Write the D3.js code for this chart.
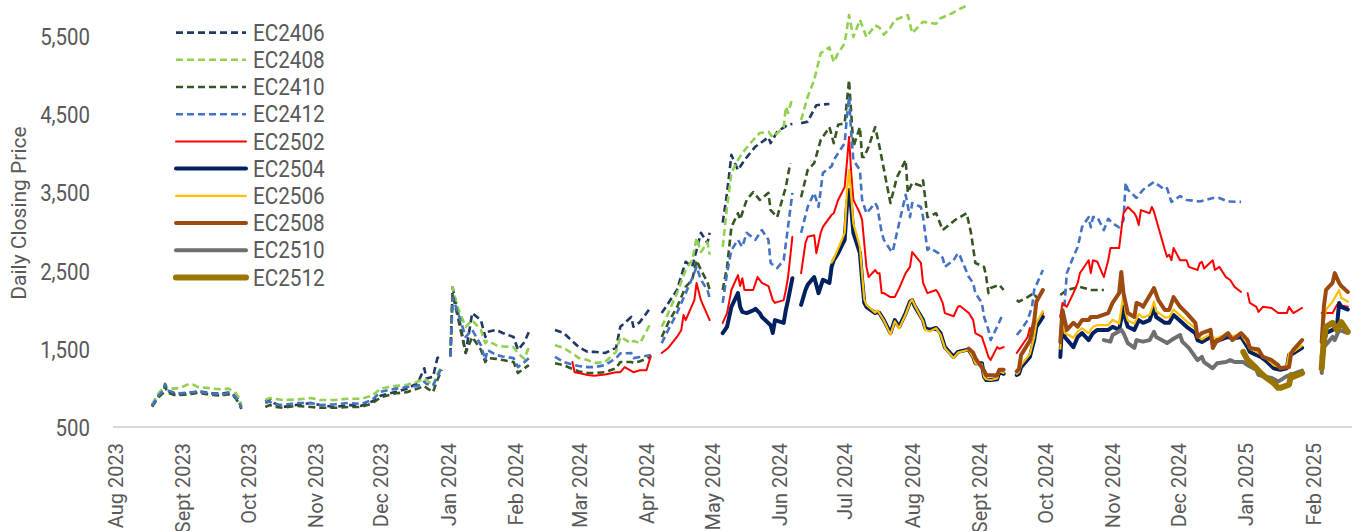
<!DOCTYPE html>
<html><head><meta charset="utf-8">
<script src="https://cdn.jsdelivr.net/npm/d3@7"></script>
<style>
body{margin:0;background:#fff;}
svg{display:block;}
</style>
</head><body>
<svg id="chart" width="1364" height="531"></svg>
<script>
// ---------- DATA ----------
const yTickValues = [500, 1500, 2500, 3500, 4500, 5500];
const xTickDates = ["2023-08-01","2023-09-01","2023-10-01","2023-11-01","2023-12-01","2024-01-01","2024-02-01","2024-03-01","2024-04-01","2024-05-01","2024-06-01","2024-07-01","2024-08-01","2024-09-01","2024-10-01","2024-11-01","2024-12-01","2025-01-01","2025-02-01"];
const xTickLabels = ["Aug 2023","Sept 2023","Oct 2023","Nov 2023","Dec 2023","Jan 2024","Feb 2024","Mar 2024","Apr 2024","May 2024","Jun 2024","Jul 2024","Aug 2024","Sept 2024","Oct 2024","Nov 2024","Dec 2024","Jan 2025","Feb 2025"];
const seriesNames = ["EC2406","EC2408","EC2410","EC2412","EC2502","EC2504","EC2506","EC2508","EC2510","EC2512"];

const EC2406 = [["2023-08-18",770],["2023-08-21",900],["2023-08-23",960],["2023-08-24",1040],["2023-08-25",960],["2023-08-28",930],["2023-08-31",920],["2023-09-04",935],["2023-09-06",940],["2023-09-08",960],["2023-09-12",940],["2023-09-15",930],["2023-09-19",925],["2023-09-22",940],["2023-09-25",900],["2023-09-27",830],["2023-09-28",750],
["2023-10-02",null],
["2023-10-09",825],["2023-10-11",860],["2023-10-13",806],["2023-10-17",755],["2023-10-23",780],["2023-10-30",806],["2023-11-03",780],["2023-11-10",755],["2023-11-16",780],["2023-11-22",770],["2023-11-27",825],["2023-12-01",900],["2023-12-08",950],["2023-12-13",990],["2023-12-18",1060],["2023-12-21",1250],["2023-12-22",1120],["2023-12-25",1140],["2023-12-27",1380],["2023-12-29",1420],
["2024-01-01",null],
["2024-01-02",1420],["2024-01-03",2280],["2024-01-05",2030],["2024-01-09",1445],["2024-01-12",1955],["2024-01-16",1865],["2024-01-18",1650],["2024-01-19",1715],["2024-01-23",1740],["2024-01-26",1700],["2024-01-31",1650],["2024-02-02",1485],["2024-02-05",1585],["2024-02-07",1715],
["2024-02-12",null],
["2024-02-19",1740],["2024-02-23",1700],["2024-02-28",1570],["2024-03-01",1520],["2024-03-05",1460],["2024-03-08",1460],["2024-03-13",1445],["2024-03-18",1510],["2024-03-20",1780],["2024-03-25",1905],["2024-03-26",1780],["2024-03-29",1840],["2024-04-03",2030],
["2024-04-05",null],
["2024-04-08",1955],["2024-04-11",2080],["2024-04-15",2250],["2024-04-19",2610],["2024-04-22",2545],["2024-04-24",2760],["2024-04-26",2980],["2024-04-29",2850],["2024-04-30",2980],
["2024-05-02",null],
["2024-05-06",3110],["2024-05-08",3490],["2024-05-10",3975],["2024-05-13",3780],["2024-05-16",3910],["2024-05-21",4080],["2024-05-27",4200],["2024-05-28",4125],["2024-05-31",4270],["2024-06-05",4360],["2024-06-07",4370],
["2024-06-10",null],
["2024-06-11",4380],["2024-06-14",4400],["2024-06-18",4610],["2024-06-21",4620],["2024-06-24",4625]];

const EC2408 = [["2023-08-18",790],["2023-08-21",930],["2023-08-23",990],["2023-08-24",1050],["2023-08-25",1000],["2023-08-28",990],["2023-08-31",1000],["2023-09-04",1050],["2023-09-06",1040],["2023-09-08",1010],["2023-09-12",1000],["2023-09-15",990],["2023-09-19",980],["2023-09-22",990],["2023-09-25",950],["2023-09-27",870],["2023-09-28",780],
["2023-10-02",null],
["2023-10-09",845],["2023-10-11",870],["2023-10-13",860],["2023-10-17",845],["2023-10-23",850],["2023-10-30",870],["2023-11-03",845],["2023-11-10",845],["2023-11-16",860],["2023-11-22",860],["2023-11-27",900],["2023-12-01",990],["2023-12-08",1025],["2023-12-13",1040],["2023-12-18",1080],["2023-12-21",1120],["2023-12-22",1100],["2023-12-25",1030],["2023-12-27",1180],["2023-12-29",1270],
["2024-01-01",null],
["2024-01-02",1400],["2024-01-03",2280],["2024-01-05",2050],["2024-01-09",1780],["2024-01-12",1865],["2024-01-16",1740],["2024-01-18",1570],["2024-01-19",1600],["2024-01-23",1545],["2024-01-26",1530],["2024-01-31",1520],["2024-02-02",1440],["2024-02-05",1370],["2024-02-07",1520],
["2024-02-12",null],
["2024-02-19",1545],["2024-02-23",1510],["2024-02-28",1420],["2024-03-01",1380],["2024-03-05",1355],["2024-03-08",1315],["2024-03-13",1330],["2024-03-18",1460],["2024-03-20",1650],["2024-03-25",1570],["2024-03-26",1600],["2024-03-29",1570],["2024-04-03",1830],
["2024-04-05",null],
["2024-04-08",1780],["2024-04-11",1955],["2024-04-15",2210],["2024-04-19",2505],["2024-04-22",2630],["2024-04-24",2915],["2024-04-26",2735],["2024-04-29",2860],["2024-04-30",2700],
["2024-05-02",null],
["2024-05-06",2800],["2024-05-08",3310],["2024-05-10",3745],["2024-05-13",3910],["2024-05-15",4000],["2024-05-20",4165],["2024-05-23",4255],["2024-05-27",4270],["2024-05-29",4200],["2024-06-03",4330],["2024-06-04",4590],["2024-06-05",4510],["2024-06-07",4700],
["2024-06-10",null],
["2024-06-11",4420],["2024-06-14",4715],["2024-06-17",4930],["2024-06-20",5275],["2024-06-24",5350],["2024-06-26",5160],["2024-06-28",5275],["2024-07-01",5400],["2024-07-03",5760],["2024-07-05",5480],["2024-07-08",5700],["2024-07-11",5480],["2024-07-15",5630],["2024-07-17",5600],["2024-07-19",5510],["2024-07-22",5600],["2024-07-24",5700],["2024-07-26",5720],["2024-07-30",5760],["2024-08-01",5530],["2024-08-06",5675],["2024-08-12",5650],["2024-08-14",5720],["2024-08-19",5780],["2024-08-22",5830],["2024-08-26",5880]];

const EC2410 = [["2023-08-18",760],["2023-08-21",880],["2023-08-23",930],["2023-08-24",1020],["2023-08-25",940],["2023-08-28",910],["2023-08-31",910],["2023-09-04",920],["2023-09-06",925],["2023-09-08",940],["2023-09-12",920],["2023-09-15",910],["2023-09-19",900],["2023-09-22",920],["2023-09-25",880],["2023-09-27",800],["2023-09-28",730],
["2023-10-02",null],
["2023-10-09",755],["2023-10-11",780],["2023-10-13",760],["2023-10-17",745],["2023-10-23",770],["2023-10-30",755],["2023-11-03",745],["2023-11-10",745],["2023-11-16",755],["2023-11-22",755],["2023-11-27",800],["2023-12-01",880],["2023-12-08",930],["2023-12-13",945],["2023-12-18",990],["2023-12-21",1025],["2023-12-22",1000],["2023-12-25",945],["2023-12-27",1100],["2023-12-29",1230],
["2024-01-01",null],
["2024-01-02",1400],["2024-01-03",2200],["2024-01-05",1950],["2024-01-09",1445],["2024-01-12",1650],["2024-01-16",1485],["2024-01-18",1330],["2024-01-19",1380],["2024-01-23",1370],["2024-01-26",1355],["2024-01-31",1330],["2024-02-02",1190],["2024-02-05",1250],["2024-02-07",1290],
["2024-02-12",null],
["2024-02-19",1315],["2024-02-23",1290],["2024-02-28",1230],["2024-03-01",1210],["2024-03-05",1190],["2024-03-08",1190],["2024-03-13",1200],["2024-03-18",1250],["2024-03-20",1330],["2024-03-25",1330],["2024-03-26",1320],["2024-03-29",1340],["2024-04-03",1395],
["2024-04-05",null],
["2024-04-08",1650],["2024-04-11",1830],["2024-04-15",2030],["2024-04-19",2290],["2024-04-22",2380],["2024-04-24",2630],["2024-04-26",2505],["2024-04-29",2350],["2024-04-30",2250],
["2024-05-02",null],
["2024-05-06",2250],["2024-05-08",2545],["2024-05-10",3055],["2024-05-13",3230],["2024-05-14",3150],["2024-05-17",3400],["2024-05-20",3500],["2024-05-23",3400],["2024-05-27",3490],["2024-05-28",3270],["2024-05-31",3180],["2024-06-04",3565],["2024-06-06",3870],
["2024-06-10",null],
["2024-06-11",3435],["2024-06-14",3780],["2024-06-17",3870],["2024-06-20",4165],["2024-06-24",4330],["2024-06-26",4125],["2024-06-28",4360],["2024-07-01",4380],["2024-07-03",4930],["2024-07-04",4510],["2024-07-05",4080],["2024-07-08",4330],["2024-07-09",3950],["2024-07-10",3950],["2024-07-12",4080],["2024-07-15",4330],["2024-07-17",4080],["2024-07-22",3360],["2024-07-25",3690],["2024-07-26",3745],["2024-07-29",3910],["2024-07-30",3490],["2024-08-01",3620],["2024-08-05",3580],["2024-08-06",3650],["2024-08-08",3180],["2024-08-12",3230],["2024-08-15",3015],["2024-08-19",3105],["2024-08-21",3150],["2024-08-23",3180],["2024-08-26",3230],["2024-08-28",2980],["2024-08-30",2595],["2024-09-03",2545],["2024-09-04",2415],["2024-09-05",2210],["2024-09-06",2275],["2024-09-10",2315],["2024-09-12",2250],
["2024-09-16",null],
["2024-09-18",2120],["2024-09-19",2100],["2024-09-23",2160],["2024-09-26",2210],["2024-09-27",2150],
["2024-10-02",null],
["2024-10-08",2185],["2024-10-11",2250],["2024-10-17",2290],["2024-10-22",2250],["2024-10-28",2250]];

const EC2412 = [["2023-08-18",770],["2023-08-21",900],["2023-08-23",960],["2023-08-24",1050],["2023-08-25",970],["2023-08-28",940],["2023-08-31",930],["2023-09-04",940],["2023-09-06",945],["2023-09-08",955],["2023-09-12",935],["2023-09-15",925],["2023-09-19",915],["2023-09-22",935],["2023-09-25",895],["2023-09-27",810],["2023-09-28",745],
["2023-10-02",null],
["2023-10-09",806],["2023-10-11",825],["2023-10-13",790],["2023-10-17",780],["2023-10-23",806],["2023-10-30",806],["2023-11-03",780],["2023-11-10",790],["2023-11-16",806],["2023-11-22",795],["2023-11-27",845],["2023-12-01",950],["2023-12-08",990],["2023-12-13",1010],["2023-12-18",1025],["2023-12-21",1080],["2023-12-22",1050],["2023-12-25",1030],["2023-12-27",1140],["2023-12-29",1265],
["2024-01-01",null],
["2024-01-02",1400],["2024-01-03",2150],["2024-01-05",2000],["2024-01-09",1650],["2024-01-12",1740],["2024-01-16",1545],["2024-01-18",1355],["2024-01-19",1485],["2024-01-23",1420],["2024-01-26",1400],["2024-01-31",1380],["2024-02-02",1265],["2024-02-05",1330],["2024-02-07",1380],
["2024-02-12",null],
["2024-02-19",1395],["2024-02-23",1330],["2024-02-28",1290],["2024-03-01",1280],["2024-03-05",1265],["2024-03-08",1265],["2024-03-13",1290],["2024-03-18",1380],["2024-03-20",1440],["2024-03-25",1445],["2024-03-26",1380],["2024-03-29",1395],["2024-04-03",1420],
["2024-04-05",null],
["2024-04-08",1570],["2024-04-11",1740],["2024-04-15",1955],["2024-04-19",2210],["2024-04-22",2400],["2024-04-24",2545],["2024-04-26",2380],["2024-04-29",2250],["2024-04-30",2150],
["2024-05-02",null],
["2024-05-06",2085],["2024-05-08",2465],["2024-05-10",2760],["2024-05-13",2890],["2024-05-15",2800],["2024-05-17",2980],["2024-05-21",2890],["2024-05-24",3015],["2024-05-27",2890],["2024-05-28",2595],["2024-05-31",2530],["2024-06-03",2630],["2024-06-05",3055],["2024-06-07",3490],
["2024-06-10",null],
["2024-06-11",2980],["2024-06-14",3310],["2024-06-17",3490],["2024-06-19",3310],["2024-06-21",3745],["2024-06-25",3830],["2024-06-26",3910],["2024-07-01",4125],["2024-07-02",4460],["2024-07-03",4715],["2024-07-04",4255],["2024-07-05",3910],["2024-07-08",3780],["2024-07-09",3400],["2024-07-11",3230],["2024-07-15",3360],["2024-07-16",3310],["2024-07-18",2980],["2024-07-19",2890],["2024-07-22",2760],["2024-07-23",2735],["2024-07-25",2980],["2024-07-29",3465],["2024-07-31",3180],["2024-08-01",3360],["2024-08-05",3310],["2024-08-06",3180],["2024-08-08",2760],["2024-08-09",2790],["2024-08-13",2720],["2024-08-15",2660],["2024-08-16",2545],["2024-08-20",2630],["2024-08-22",2720],["2024-08-23",2680],["2024-08-27",2415],["2024-08-29",2340],["2024-08-30",2210],["2024-09-02",2085],["2024-09-03",1905],["2024-09-05",1740],["2024-09-06",1610],["2024-09-09",1780],["2024-09-11",1905],
["2024-09-16",null],
["2024-09-18",1675],["2024-09-20",1740],["2024-09-23",1865],["2024-09-25",2035],["2024-09-26",2250],["2024-09-30",2505],
["2024-10-02",null],
["2024-10-08",1905],["2024-10-10",2085],["2024-10-11",2465],["2024-10-14",2675],["2024-10-16",2800],["2024-10-18",3055],["2024-10-21",3180],["2024-10-22",3050],["2024-10-23",3180],["2024-10-25",3180],["2024-10-28",3015],["2024-10-30",3160],["2024-11-01",3100],["2024-11-04",3050],["2024-11-06",3140],["2024-11-07",3620],["2024-11-08",3530],["2024-11-12",3425],["2024-11-15",3530],["2024-11-20",3630],["2024-11-25",3530],["2024-11-26",3550],["2024-11-28",3375],["2024-12-02",3450],["2024-12-05",3400],["2024-12-11",3380],["2024-12-17",3425],["2024-12-20",3425],["2024-12-24",3380],["2024-12-30",3375]];

const EC2502 = [["2024-02-27",1330],["2024-02-28",1200],["2024-03-01",1190],["2024-03-05",1165],["2024-03-08",1155],["2024-03-13",1170],["2024-03-18",1200],["2024-03-20",1200],["2024-03-22",1265],["2024-03-26",1200],["2024-03-29",1225],["2024-04-01",1225],["2024-04-03",1405],
["2024-04-05",null],
["2024-04-08",1445],["2024-04-11",1510],["2024-04-15",1650],["2024-04-17",1740],["2024-04-18",1930],["2024-04-19",1865],["2024-04-23",2120],["2024-04-24",2340],["2024-04-26",2120],["2024-04-30",1865],
["2024-05-02",null],
["2024-05-06",1830],["2024-05-08",1955],["2024-05-10",2250],["2024-05-13",2440],["2024-05-14",2300],["2024-05-15",2400],["2024-05-16",2250],["2024-05-20",2250],["2024-05-22",2415],["2024-05-24",2340],["2024-05-27",2300],["2024-05-29",2120],["2024-05-30",2085],["2024-06-03",2120],["2024-06-04",2250],["2024-06-05",2415],["2024-06-07",2930],
["2024-06-10",null],
["2024-06-11",2465],["2024-06-13",2850],["2024-06-14",2930],["2024-06-17",2950],["2024-06-18",2720],["2024-06-20",2980],["2024-06-21",3055],["2024-06-25",3210],["2024-06-26",3230],["2024-06-28",3400],["2024-07-01",3565],["2024-07-02",3870],["2024-07-03",4205],["2024-07-04",3745],["2024-07-05",3400],["2024-07-08",3230],["2024-07-09",3145],["2024-07-11",2545],["2024-07-12",2415],["2024-07-15",2505],["2024-07-16",2465],["2024-07-17",2465],["2024-07-18",2210],["2024-07-19",2210],["2024-07-22",2160],["2024-07-24",2160],["2024-07-26",2270],["2024-07-29",2465],["2024-07-31",2545],["2024-08-01",2735],["2024-08-05",2595],["2024-08-06",2340],["2024-08-08",2210],["2024-08-12",2250],["2024-08-13",2210],["2024-08-15",2085],["2024-08-16",1955],["2024-08-20",1915],["2024-08-22",2035],["2024-08-23",2045],["2024-08-27",1955],["2024-08-29",1865],["2024-08-30",1700],["2024-09-02",1650],["2024-09-04",1485],["2024-09-05",1395],["2024-09-06",1355],["2024-09-09",1520],["2024-09-10",1500],["2024-09-12",1520],
["2024-09-16",null],
["2024-09-18",1445],["2024-09-19",1485],["2024-09-23",1650],["2024-09-24",1765],["2024-09-25",1700],["2024-09-27",1800],["2024-09-30",1950],
["2024-10-02",null],
["2024-10-08",1900],["2024-10-09",2085],["2024-10-11",2035],["2024-10-14",2210],["2024-10-16",2340],["2024-10-17",2465],["2024-10-18",2505],["2024-10-21",2630],["2024-10-22",2465],["2024-10-23",2630],["2024-10-25",2610],["2024-10-28",2415],["2024-10-30",2630],["2024-10-31",2785],["2024-11-04",2785],["2024-11-05",3015],["2024-11-06",3230],["2024-11-08",3310],["2024-11-11",3230],["2024-11-12",3180],["2024-11-13",3080],["2024-11-14",3270],["2024-11-18",3230],["2024-11-19",3310],["2024-11-20",3250],["2024-11-22",3055],["2024-11-25",2760],["2024-11-26",2675],["2024-11-27",2700],["2024-11-28",2630],["2024-11-29",2785],["2024-12-02",2630],["2024-12-05",2630],["2024-12-06",2545],["2024-12-10",2505],["2024-12-11",2590],["2024-12-12",2610],["2024-12-13",2525],["2024-12-17",2630],["2024-12-18",2505],["2024-12-20",2545],["2024-12-23",2415],["2024-12-25",2377],["2024-12-27",2290],["2024-12-30",2225],
["2025-01-01",null],
["2025-01-02",2210],["2025-01-03",2085],["2025-01-06",2035],["2025-01-07",1970],["2025-01-09",2035],["2025-01-13",2020],["2025-01-16",1955],["2025-01-20",1955],["2025-01-21",2035],["2025-01-23",1955],["2025-01-27",2020],
["2025-01-30",null],
["2025-02-05",1955],["2025-02-10",1955],["2025-02-12",2060],["2025-02-17",2035]];

const EC2504 = [["2024-05-06",1700],["2024-05-08",1780],["2024-05-10",2035],["2024-05-13",2210],["2024-05-14",2035],["2024-05-15",1970],["2024-05-17",1955],["2024-05-20",1990],["2024-05-21",2010],["2024-05-23",1955],["2024-05-24",1905],["2024-05-28",1800],["2024-05-29",1700],["2024-05-30",1865],["2024-06-03",1830],["2024-06-04",1995],["2024-06-05",2120],["2024-06-07",2400],
["2024-06-10",null],
["2024-06-11",2060],["2024-06-13",2250],["2024-06-14",2315],["2024-06-17",2415],["2024-06-19",2210],["2024-06-21",2380],["2024-06-24",2340],["2024-06-25",2545],["2024-06-26",2630],["2024-06-28",2720],["2024-07-01",2890],["2024-07-02",3310],["2024-07-03",3527],["2024-07-04",3310],["2024-07-05",2980],["2024-07-08",2720],["2024-07-09",2380],["2024-07-10",2085],["2024-07-11",2035],["2024-07-15",1955],["2024-07-16",1970],["2024-07-17",1955],["2024-07-19",1865],["2024-07-22",1700],["2024-07-24",1865],["2024-07-26",1780],["2024-07-29",1955],["2024-07-31",2100],["2024-08-01",2120],["2024-08-02",2050],["2024-08-06",1865],["2024-08-07",1765],["2024-08-09",1740],["2024-08-12",1765],["2024-08-14",1700],["2024-08-16",1520],["2024-08-20",1395],["2024-08-22",1460],["2024-08-26",1485],["2024-08-27",1485],["2024-08-29",1395],["2024-08-30",1315],["2024-09-02",1315],["2024-09-03",1140],["2024-09-04",1100],["2024-09-06",1100],["2024-09-09",1110],["2024-09-10",1200],["2024-09-12",1180],
["2024-09-16",null],
["2024-09-18",1165],["2024-09-19",1180],["2024-09-20",1265],["2024-09-24",1395],["2024-09-26",1610],["2024-09-27",1780],["2024-09-30",1905],
["2024-10-02",null],
["2024-10-08",1395],["2024-10-09",1905],["2024-10-10",1650],["2024-10-14",1520],["2024-10-16",1650],["2024-10-18",1700],["2024-10-21",1610],["2024-10-23",1700],["2024-10-25",1740],["2024-10-30",1740],["2024-11-01",1780],["2024-11-04",1740],["2024-11-06",2035],["2024-11-07",1865],["2024-11-08",1780],["2024-11-11",1740],["2024-11-13",1865],["2024-11-15",1830],["2024-11-18",1865],["2024-11-20",2035],["2024-11-21",1905],["2024-11-25",1830],["2024-11-27",1830],["2024-11-29",1930],["2024-12-03",1830],["2024-12-05",1780],["2024-12-09",1700],["2024-12-10",1610],["2024-12-12",1585],["2024-12-16",1650],["2024-12-18",1585],["2024-12-20",1610],["2024-12-24",1650],["2024-12-26",1630],["2024-12-30",1650],["2025-01-02",1520],["2025-01-03",1460],["2025-01-06",1420],["2025-01-08",1395],["2025-01-10",1355],["2025-01-14",1250],["2025-01-17",1230],["2025-01-20",1250],["2025-01-21",1420],["2025-01-23",1440],["2025-01-27",1510],
["2025-01-30",null],
["2025-02-05",1395],["2025-02-07",1700],["2025-02-10",1740],["2025-02-12",1780],["2025-02-13",2085],["2025-02-14",2035],["2025-02-17",2000]];

const EC2506 = [["2024-06-25",2600],["2024-06-26",2650],["2024-06-28",2780],["2024-07-01",2980],["2024-07-02",3500],["2024-07-03",3780],["2024-07-04",3450],["2024-07-05",3100],["2024-07-08",2800],["2024-07-09",2450],["2024-07-10",2130],["2024-07-11",2060],["2024-07-15",1960],["2024-07-16",1990],["2024-07-17",1950],["2024-07-19",1860],["2024-07-22",1680],["2024-07-24",1850],["2024-07-26",1760],["2024-07-29",1940],["2024-07-31",2090],["2024-08-01",2130],["2024-08-02",2060],["2024-08-06",1850],["2024-08-07",1740],["2024-08-09",1720],["2024-08-12",1760],["2024-08-14",1680],["2024-08-16",1510],["2024-08-20",1380],["2024-08-22",1450],["2024-08-26",1480],["2024-08-27",1480],["2024-08-29",1390],["2024-08-30",1310],["2024-09-02",1300],["2024-09-03",1140],["2024-09-04",1110],["2024-09-06",1100],["2024-09-09",1120],["2024-09-10",1210],["2024-09-12",1190],
["2024-09-16",null],
["2024-09-18",1180],["2024-09-19",1200],["2024-09-20",1290],["2024-09-24",1430],["2024-09-26",1650],["2024-09-27",1830],["2024-09-30",1980],
["2024-10-02",null],
["2024-10-08",1500],["2024-10-09",1950],["2024-10-10",1700],["2024-10-14",1640],["2024-10-16",1720],["2024-10-18",1760],["2024-10-21",1700],["2024-10-23",1780],["2024-10-25",1800],["2024-10-30",1800],["2024-11-01",1870],["2024-11-04",1820],["2024-11-06",2200],["2024-11-07",1960],["2024-11-08",1860],["2024-11-11",1820],["2024-11-13",1940],["2024-11-15",1900],["2024-11-18",1930],["2024-11-20",2100],["2024-11-21",1980],["2024-11-25",1900],["2024-11-27",1900],["2024-11-29",2000],["2024-12-03",1900],["2024-12-05",1850],["2024-12-09",1760],["2024-12-10",1660],["2024-12-12",1620],["2024-12-16",1690],["2024-12-18",1620],["2024-12-20",1650],["2024-12-24",1690],["2024-12-26",1660],["2024-12-30",1680],["2025-01-02",1560],["2025-01-03",1500],["2025-01-06",1460],["2025-01-08",1430],["2025-01-10",1390],["2025-01-14",1290],["2025-01-17",1260],["2025-01-20",1280],["2025-01-21",1440],["2025-01-23",1460],["2025-01-27",1540],
["2025-01-30",null],
["2025-02-05",1480],["2025-02-06",1850],["2025-02-07",2000],["2025-02-10",2100],["2025-02-12",2200],["2025-02-13",2250],["2025-02-14",2150],["2025-02-17",2100]];

const EC2508 = [["2024-08-27",1500],["2024-08-29",1450],["2024-08-30",1380],["2024-09-03",1220],["2024-09-04",1160],["2024-09-06",1160],["2024-09-09",1160],["2024-09-10",1230],["2024-09-12",1230],
["2024-09-16",null],
["2024-09-18",1210],["2024-09-19",1240],["2024-09-20",1420],["2024-09-24",1600],["2024-09-26",1850],["2024-09-27",2100],["2024-09-30",2250],
["2024-10-02",null],
["2024-10-08",1585],["2024-10-09",1995],["2024-10-11",1740],["2024-10-14",1830],["2024-10-16",1780],["2024-10-18",1865],["2024-10-21",1865],["2024-10-22",1905],["2024-10-25",1905],["2024-10-30",1955],["2024-11-01",2085],["2024-11-04",2210],["2024-11-05",2480],["2024-11-06",2210],["2024-11-08",1955],["2024-11-11",1905],["2024-11-12",2085],["2024-11-14",2060],["2024-11-15",2035],["2024-11-19",2225],["2024-11-20",2275],["2024-11-22",2120],["2024-11-25",1995],["2024-11-27",1995],["2024-11-29",2160],["2024-12-02",2035],["2024-12-05",1955],["2024-12-09",1830],["2024-12-10",1650],["2024-12-12",1700],["2024-12-16",1740],["2024-12-17",1510],["2024-12-19",1610],["2024-12-20",1610],["2024-12-24",1700],["2024-12-26",1610],["2024-12-30",1700],["2025-01-02",1610],["2025-01-03",1510],["2025-01-07",1490],["2025-01-09",1395],["2025-01-13",1355],["2025-01-16",1290],["2025-01-17",1250],["2025-01-21",1265],["2025-01-22",1440],["2025-01-23",1485],["2025-01-27",1610],
["2025-01-30",null],
["2025-02-05",1585],["2025-02-06",2035],["2025-02-07",2250],["2025-02-10",2340],["2025-02-11",2465],["2025-02-13",2340],["2025-02-14",2300],["2025-02-17",2225]];

const EC2510 = [["2024-10-28",1610],["2024-10-31",1590],["2024-11-01",1675],["2024-11-05",1740],["2024-11-06",1700],["2024-11-08",1570],["2024-11-11",1510],["2024-11-12",1610],["2024-11-15",1590],["2024-11-18",1610],["2024-11-20",1715],["2024-11-21",1650],["2024-11-25",1590],["2024-11-26",1570],["2024-11-28",1610],["2024-12-02",1675],["2024-12-03",1590],["2024-12-06",1510],["2024-12-10",1355],["2024-12-12",1395],["2024-12-13",1330],["2024-12-17",1250],["2024-12-19",1315],["2024-12-23",1330],["2024-12-25",1355],["2024-12-27",1330],["2024-12-31",1330],["2025-01-02",1290],["2025-01-06",1230],["2025-01-07",1165],["2025-01-09",1150],["2025-01-13",1125],["2025-01-16",1080],["2025-01-20",1150],["2025-01-22",1170],["2025-01-27",1220],
["2025-01-30",null],
["2025-02-05",1190],["2025-02-06",1520],["2025-02-10",1650],["2025-02-11",1610],["2025-02-13",1740],["2025-02-17",1700]];

const EC2512 = [["2024-12-31",1460],["2025-01-02",1355],["2025-01-06",1250],["2025-01-08",1190],["2025-01-10",1140],["2025-01-14",1060],["2025-01-16",1000],["2025-01-17",1000],["2025-01-21",1040],["2025-01-22",1165],["2025-01-23",1140],["2025-01-27",1190],
["2025-01-30",null],
["2025-02-05",1250],["2025-02-06",1610],["2025-02-07",1780],["2025-02-10",1830],["2025-02-12",1740],["2025-02-14",1840],["2025-02-17",1715]];

const seriesValues = [EC2406, EC2408, EC2410, EC2412, EC2502, EC2504, EC2506, EC2508, EC2510, EC2512];

// ---------- STYLES ----------
const seriesColors = ["#1f3864","#92d050","#375623","#4472c4","#ff0000","#002060","#ffc000","#9c4a12","#6f6f6f","#9a7600"];
const seriesWidths = [2.6, 2.6, 2.6, 2.6, 2, 4, 2.2, 4, 4, 6];
const seriesDash = ["7,4","7,4","7,4","7,4",null,null,null,null,null,null];

// ---------- CHART ----------
const svg = d3.select("#chart");
const parse = d3.utcParse("%Y-%m-%d");
const textColor = "#595959";
const baseFont = "Roboto,'Liberation Sans',Arial,sans-serif";

const x = d3.scaleUtc()
  .domain([parse("2023-08-01"), parse("2025-02-18")])
  .range([115, 1350]);
const y = d3.scaleLinear().domain([500, 5500]).range([427, 35.5]);

// baseline
svg.append("line")
  .attr("x1", 113).attr("x2", 1352)
  .attr("y1", y(500)).attr("y2", y(500))
  .attr("stroke", "#d9d9d9").attr("stroke-width", 2);

// y tick labels (condensed look)
const yAxis = d3.axisLeft(y).tickValues(yTickValues).tickFormat(d3.format(",")).tickSize(0).tickPadding(0);
const gy = svg.append("g").attr("transform", "translate(90,0)").call(yAxis);
gy.select(".domain").remove();
gy.selectAll("text")
  .attr("x", 0).attr("dy", "0.36em")
  .attr("transform", "scale(0.85,1)")
  .attr("fill", textColor)
  .style("font-family", baseFont)
  .style("font-size", "24px");

// x tick labels
const xAxis = d3.axisBottom(x).tickValues(xTickDates.map(parse)).tickSize(0)
  .tickFormat((d, i) => xTickLabels[i]);
const gx = svg.append("g").attr("transform", "translate(0,443)").call(xAxis);
gx.select(".domain").remove();
gx.selectAll("text")
  .attr("transform", "rotate(-90)")
  .attr("x", 0).attr("y", 0).attr("dy", "0.36em")
  .attr("text-anchor", "end")
  .attr("fill", textColor)
  .style("font-family", baseFont)
  .style("font-size", "20px");

// y title
svg.append("text")
  .attr("transform", "translate(18,213) rotate(-90)")
  .attr("text-anchor", "middle")
  .attr("dy", "0.36em")
  .attr("fill", textColor)
  .style("font-family", baseFont)
  .style("font-size", "21px")
  .text("Daily Closing Price");

// lines
const line = d3.line()
  .defined(d => d[1] !== null)
  .x(d => x(parse(d[0])))
  .y(d => y(d[1]))
  .curve(d3.curveLinear);

seriesValues.forEach((data, i) => {
  svg.append("path")
    .datum(data)
    .attr("fill", "none")
    .attr("stroke", seriesColors[i])
    .attr("stroke-width", seriesWidths[i])
    .attr("stroke-dasharray", seriesDash[i])
    .attr("stroke-linejoin", "round")
    .attr("stroke-linecap", seriesDash[i] ? "butt" : "round")
    .attr("d", line);
});

// legend
const legend = svg.append("g");
seriesNames.forEach((name, i) => {
  const ly = 32.6 + i * 27.2;
  legend.append("line")
    .attr("x1", 176).attr("x2", 246)
    .attr("y1", ly).attr("y2", ly)
    .attr("stroke", seriesColors[i])
    .attr("stroke-width", seriesWidths[i])
    .attr("stroke-dasharray", seriesDash[i])
    .attr("stroke-linecap", seriesDash[i] ? "butt" : "round");
  legend.append("text")
    .attr("transform", `translate(253,${ly}) scale(0.9,1)`)
    .attr("dy", "0.36em")
    .attr("fill", textColor)
    .style("font-family", baseFont)
    .style("font-size", "23px")
    .text(name);
});
</script>
</body></html>
